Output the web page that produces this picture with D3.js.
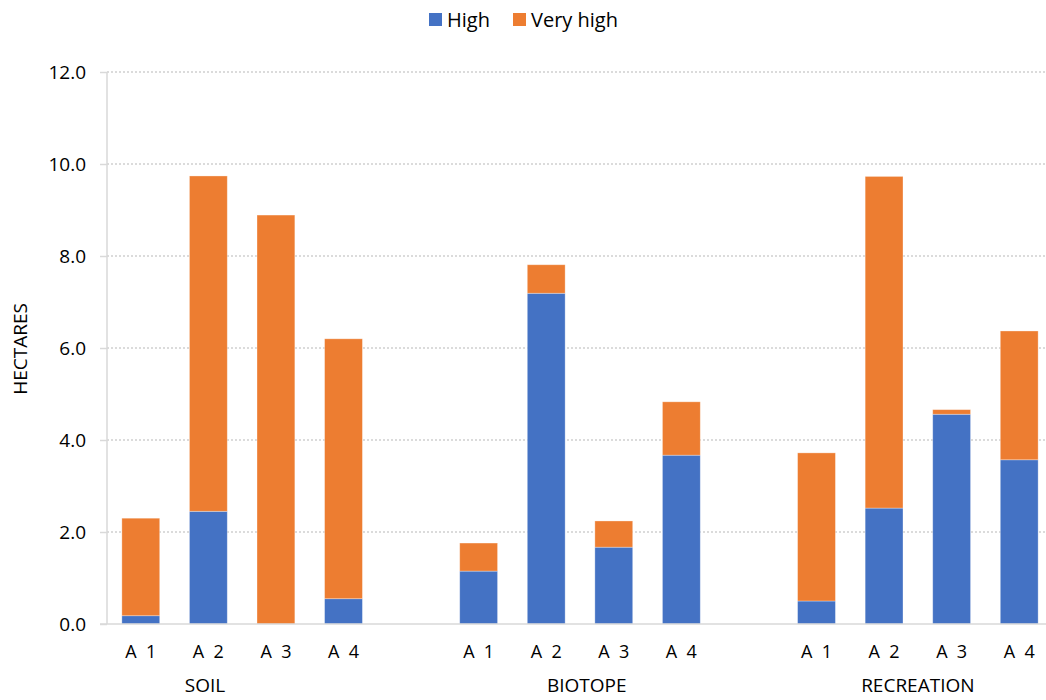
<!DOCTYPE html>
<html><head><meta charset="utf-8">
<script src="https://cdn.jsdelivr.net/npm/d3@7"></script>
<style>body{margin:0;background:#fff}svg{display:block}text{font-family:"Open Sans","Noto Sans",sans-serif;fill:#000}</style>
</head><body><svg id="c" width="1046" height="700"></svg>
<script>
const groups = ["SOIL","BIOTOPE","RECREATION"];
const subcats = ["A 1","A 2","A 3","A 4"];
const high =     [0.18, 2.45, 0.00, 0.55,  1.15, 7.19, 1.67, 3.67,  0.50, 2.52, 4.56, 3.57];
const veryHigh = [2.12, 7.29, 8.89, 5.65,  0.61, 0.62, 0.57, 1.16,  3.22, 7.21, 0.10, 2.80];
const seriesNames = ["High","Very high"];
const colors = ["#4472C4","#ED7D31"];
const yTicks = [0,2,4,6,8,10,12];

(function(){
const svg = d3.select("#c");
const mLeft = 107, mRight = 1053, mTop = 72, mBottom = 624;
// where each group label is anchored, as a position in bar slots within the group (0 = first bar, 3 = last)
const groupLabelAnchor = [0.95, 1.6, 1.5];

const slots = [];
groups.forEach((g,gi)=>{
  subcats.forEach((s,si)=>slots.push({key:g+"|"+s,group:g,sub:s,idx:gi*4+si}));
  if(gi<groups.length-1) slots.push({key:"gap"+gi,gap:true});
});
const x = d3.scaleBand().domain(slots.map(d=>d.key)).range([mLeft,mRight]).paddingInner(0.44).paddingOuter(0.22);
const y = d3.scaleLinear().domain([0,12]).range([mBottom,mTop]);

svg.append("g").selectAll("line").data(yTicks.filter(t=>t>0)).join("line")
  .attr("x1",mLeft).attr("x2",1046).attr("y1",d=>y(d)).attr("y2",d=>y(d))
  .attr("stroke","#d0d0d0").attr("stroke-width",1.3).attr("stroke-dasharray","2,2");

const yAxis = d3.axisLeft(y).tickValues(yTicks).tickFormat(d3.format(".1f")).tickSize(7).tickPadding(14);
const ga = svg.append("g").attr("transform",`translate(${mLeft},0)`).call(yAxis);
ga.select(".domain").attr("stroke","#d9d9d9").attr("stroke-width",1.5).attr("d",`M0,${mTop}V${mBottom}`);
ga.selectAll(".tick line").attr("stroke","#d9d9d9").attr("stroke-width",1.5);
ga.selectAll(".tick text").style("font-size","19px").attr("fill","#000").attr("dy","0.36em");

const data = slots.filter(d=>!d.gap).map(d=>({...d,h:high[d.idx],v:veryHigh[d.idx]}));
const bars = svg.append("g");
bars.selectAll("rect.h").data(data).join("rect").attr("class","h")
  .attr("x",d=>x(d.key)).attr("width",x.bandwidth())
  .attr("y",d=>y(d.h)).attr("height",d=>y(0)-y(d.h))
  .attr("fill",colors[0]).attr("stroke","#fff").attr("stroke-opacity",0.4).attr("stroke-width",0.8);
bars.selectAll("rect.v").data(data).join("rect").attr("class","v")
  .attr("x",d=>x(d.key)).attr("width",x.bandwidth())
  .attr("y",d=>y(d.h+d.v)).attr("height",d=>y(d.h)-y(d.h+d.v))
  .attr("fill",colors[1]).attr("stroke","#fff").attr("stroke-opacity",0.4).attr("stroke-width",0.8);

svg.append("line").attr("x1",100).attr("x2",1046).attr("y1",mBottom).attr("y2",mBottom)
  .attr("stroke","#d9d9d9").attr("stroke-width",1.5);

svg.append("g").selectAll("text").data(data).join("text")
  .attr("x",d=>x(d.key)+x.bandwidth()/2).attr("y",658).attr("text-anchor","middle")
  .style("font-size","18px").text(d=>d.sub.replace(" ","\u00a0\u00a0"));
const step = x.step();
svg.append("g").selectAll("text").data(groups).join("text")
  .attr("x",(g,gi)=>x(g+"|A 1")+x.bandwidth()/2+groupLabelAnchor[gi]*step)
  .attr("y",692).attr("text-anchor","middle").style("font-size","19px").text(d=>d);

svg.append("text").attr("transform","translate(27,349) rotate(-90)").attr("text-anchor","middle")
  .style("font-size","19px").text("HECTARES");

const lg = svg.append("g");
const items = [{n:seriesNames[0],c:colors[0],x:429},{n:seriesNames[1],c:colors[1],x:513}];
items.forEach(it=>{
  lg.append("rect").attr("x",it.x).attr("y",13).attr("width",13).attr("height",13).attr("fill",it.c);
  lg.append("text").attr("x",it.x+18).attr("y",27).style("font-size","20px").text(it.n);
});
})();
</script></body></html>
